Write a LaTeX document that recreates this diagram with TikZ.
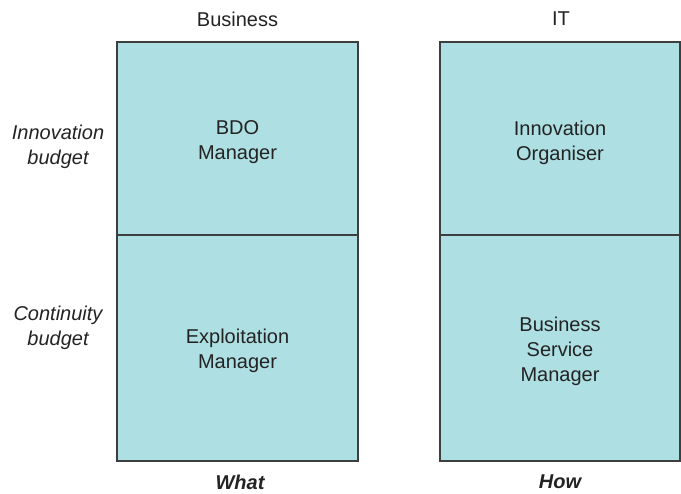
\documentclass[tikz,border=0pt]{standalone}
\usepackage{fontspec}
\setmainfont{Liberation Sans}
\usepackage{tikz}
\usetikzlibrary{positioning}

\definecolor{cellfill}{RGB}{174,223,227}
\definecolor{cellline}{RGB}{60,62,64}
\definecolor{labeltext}{RGB}{35,35,35}

\tikzset{
  cell/.style={draw=cellline, fill=cellfill, line width=0.9pt, inner sep=0pt},
  role/.style={text=labeltext, align=center, font=\fontsize{15}{18.75}\selectfont},
  head/.style={text=labeltext, font=\fontsize{15}{18.75}\selectfont},
  foot/.style={text=labeltext, font=\fontsize{15}{18.75}\selectfont\bfseries\itshape},
  side/.style={text=labeltext, align=center, font=\fontsize{15}{18.75}\selectfont\itshape}
}

\begin{document}
\begin{tikzpicture}[x=0.75pt,y=-0.75pt]
        \useasboundingbox (0,0) rectangle (681,493);

        % the two columns
        \node[cell, minimum width=241*0.75pt, minimum height=193*0.75pt] (bizinno) at (237.5,138.5) {};
        \node[cell, minimum width=241*0.75pt, minimum height=226*0.75pt] (bizcont) at (237.5,348) {};
        \node[cell, minimum width=240*0.75pt, minimum height=193*0.75pt] (itinno) at (560,138.5) {};
        \node[cell, minimum width=240*0.75pt, minimum height=226*0.75pt] (itcont) at (560,348) {};

        \node[role] (bdo) at ([yshift=-3pt]bizinno.center) {BDO\\Manager};
        \node[role] (exploit) at ([yshift=-2pt]bizcont.center) {Exploitation\\Manager};
        \node[role] (organiser) at ([yshift=-3pt]itinno.center) {Innovation\\Organiser};
        \node[role] (service) at ([yshift=-2.5pt]itcont.center) {Business\\Service\\Manager};

        % headings and footers
        \node[head] (bizhead) at (237.5,19) {Business};
        \node[head] (ithead) at (561,19) {IT};
        \node[foot] (what) at (240,482) {What};
        \node[foot] (how) at (560,482) {How};

        % budgets
        \node[side] (innobudget) at (58,147) {Innovation\\budget};
        \node[side] (contbudget) at (58,328) {Continuity\\budget};
\end{tikzpicture}
\end{document}
